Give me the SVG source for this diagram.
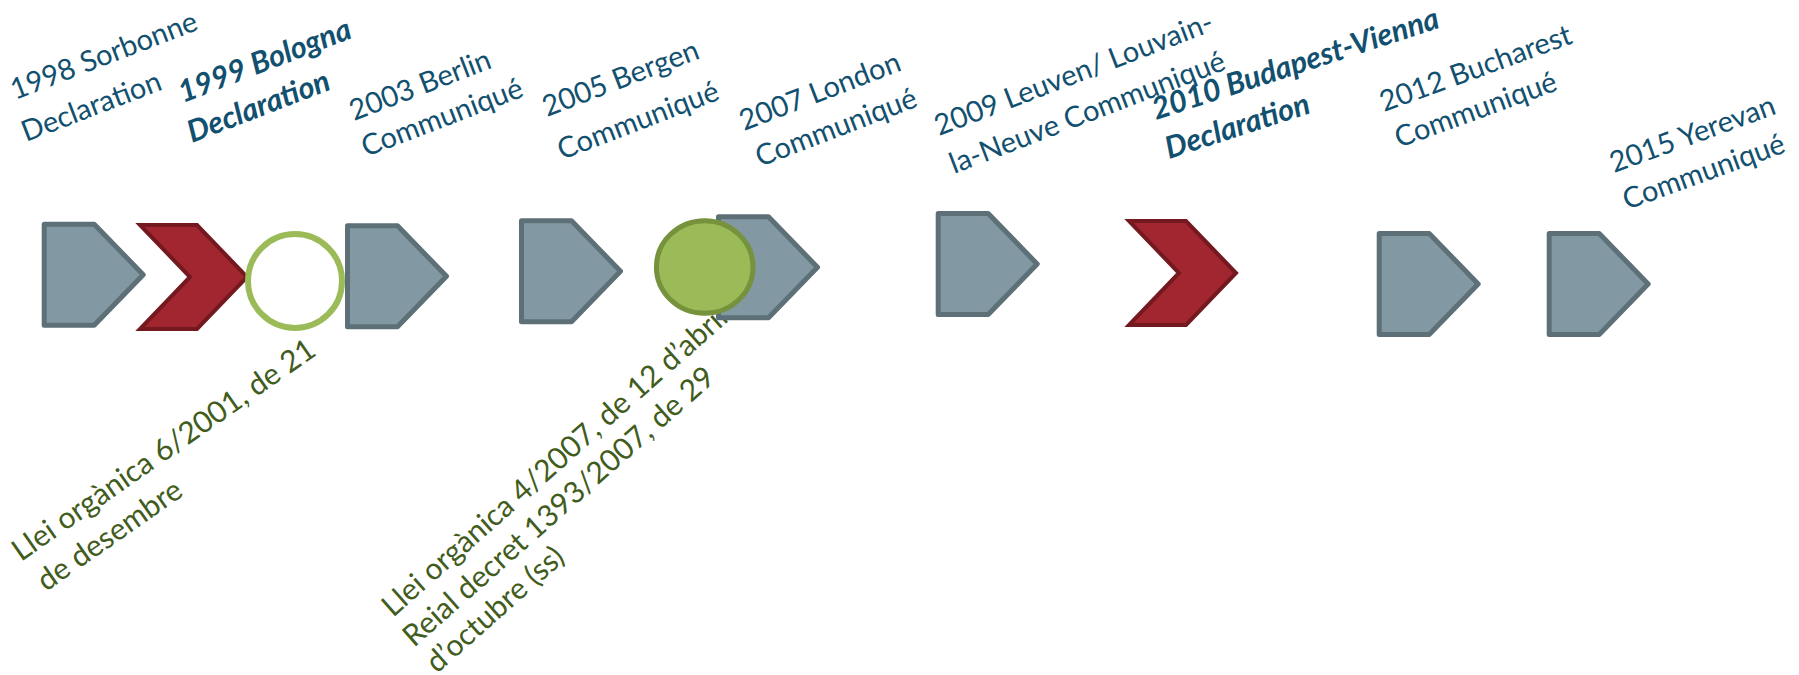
<svg xmlns="http://www.w3.org/2000/svg" width="1799" height="675" viewBox="0 0 1799 675">
<style>
.top{font-family:Lato,"Liberation Sans",sans-serif;font-size:29px;fill:#12506F}
.bi{font-weight:bold;font-style:italic;font-size:30.5px}
.law{font-family:Lato,"Liberation Sans",sans-serif;font-size:30px;fill:#415C1C}
.pent{fill:#8299A3;stroke:#5E7077;stroke-width:5;stroke-linejoin:round}
.chev{fill:#A2262F;stroke:#741920;stroke-width:4;stroke-linejoin:miter}
</style>
<defs>
<path id="pentShape" d="M0,0 H50 L99,50.5 L50,101 H0 Z"/>
<path id="chevShape" d="M0,0 H57 L107,52 L57,104 H0 L50,52 Z"/>
</defs>
<g id="labels">
<g id="label-1998">
<text class="top" transform="translate(15,100) rotate(-21)">1998 Sorbonne</text>
<text class="top" transform="translate(26,142) rotate(-21)">Declaration</text>
</g>
<g id="label-1999">
<text class="top bi" transform="translate(183,103) rotate(-21)">1999 Bologna</text>
<text class="top bi" transform="translate(192,143) rotate(-21)">Declaration</text>
</g>
<g id="label-2003">
<text class="top" transform="translate(354,121) rotate(-21)">2003 Berlin</text>
<text class="top" transform="translate(366,157) rotate(-21)">Communiqué</text>
</g>
<g id="label-2005">
<text class="top" transform="translate(547,117) rotate(-21)">2005 Bergen</text>
<text class="top" transform="translate(562,160) rotate(-21)">Communiqué</text>
</g>
<g id="label-2007">
<text class="top" transform="translate(744,131) rotate(-21)">2007 London</text>
<text class="top" transform="translate(760,167) rotate(-21)">Communiqué</text>
</g>
<g id="label-2009">
<text class="top" transform="translate(939,136) rotate(-21)">2009 Leuven/ Louvain-</text>
<text class="top" transform="translate(954,174) rotate(-21)">la-Neuve Communiqué</text>
</g>
<g id="label-2010">
<text class="top bi" transform="translate(1156,120) rotate(-18)">2010 Budapest-Vienna</text>
<text class="top bi" transform="translate(1169,159) rotate(-18)">Declaration</text>
</g>
<g id="label-2012">
<text class="top" transform="translate(1384,112) rotate(-20)">2012 Bucharest</text>
<text class="top" transform="translate(1399,148) rotate(-20)">Communiqué</text>
</g>
<g id="label-2015">
<text class="top" transform="translate(1614,173) rotate(-20)">2015 Yerevan</text>
<text class="top" transform="translate(1627,210) rotate(-20)">Communiqué</text>
</g>
<g id="law-2001">
<text class="law" transform="translate(21,562) rotate(-35)">Llei orgànica 6/2001, de 21</text>
<text class="law" transform="translate(46,592) rotate(-35)">de desembre</text>
</g>
<g id="law-2007">
<text class="law" transform="translate(393,618) rotate(-41.5)">Llei orgànica 4/2007, de 12 d’abril</text>
<text class="law" transform="translate(414,648) rotate(-41.5)">Reial decret 1393/2007, de 29</text>
<text class="law" transform="translate(437,674) rotate(-41.5)">d’octubre (ss)</text>
</g>
</g>
<g id="connectors"></g>
<g id="node-1998"><use href="#pentShape" class="pent" transform="translate(44.2,224.2)"/></g>
<g id="node-1999"><use href="#chevShape" class="chev" transform="translate(140,225)"/></g>
<g id="node-2001"><circle cx="295" cy="281" r="47" fill="#FFFFFF" stroke="#9BBB59" stroke-width="6"/></g>
<g id="node-2003"><use href="#pentShape" class="pent" transform="translate(347.5,225.8)"/></g>
<g id="node-2005"><use href="#pentShape" class="pent" transform="translate(521.5,220.8)"/></g>
<g id="node-2007"><use href="#pentShape" class="pent" transform="translate(718.5,216.8)"/></g>
<g id="node-2007-law"><ellipse cx="704.7" cy="267" rx="48.3" ry="46.3" fill="#9BBB59" stroke="#76923C" stroke-width="5"/></g>
<g id="node-2009"><use href="#pentShape" class="pent" transform="translate(938.2,213.5)"/></g>
<g id="node-2010"><use href="#chevShape" class="chev" transform="translate(1129,221)"/></g>
<g id="node-2012"><use href="#pentShape" class="pent" transform="translate(1379.2,233.5)"/></g>
<g id="node-2015"><use href="#pentShape" class="pent" transform="translate(1549.2,233.5)"/></g>
</svg>
